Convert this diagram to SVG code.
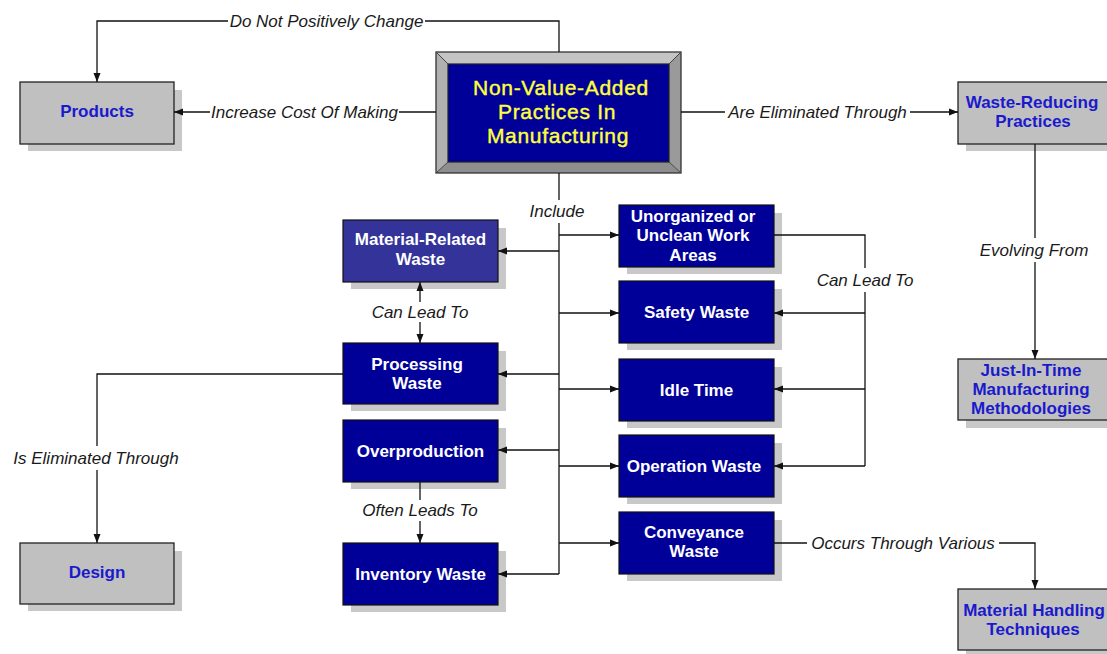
<svg xmlns="http://www.w3.org/2000/svg" width="1107" height="654" viewBox="0 0 1107 654">
<defs>
<style>
.shadow{fill:#c8c8c8;}
.navy{fill:#000099;stroke:#111;stroke-width:1.2;}
.navy2{fill:#333399;stroke:#111;stroke-width:1.2;}
.gray{fill:#c0c0c0;stroke:#222;stroke-width:1.3;}
.wt{font-family:"Liberation Sans",Arial,sans-serif;font-weight:bold;font-size:17px;fill:#ffffff;text-anchor:middle;}
.bt{font-family:"Liberation Sans",Arial,sans-serif;font-weight:bold;font-size:17px;fill:#1a1acc;text-anchor:middle;}
.lbl{font-family:"Liberation Sans",Arial,sans-serif;font-style:italic;font-size:17px;fill:#1a1a1a;text-anchor:middle;}
.main{font-family:"Liberation Sans",Arial,sans-serif;font-size:21px;fill:#ffff3c;text-anchor:middle;letter-spacing:0.7px;stroke:#ffff3c;stroke-width:0.4;}
.ln{fill:none;stroke:#111;stroke-width:1.3;}
.arr{marker-end:url(#ah);}
</style>
<marker id="ah" markerWidth="9" markerHeight="8" refX="9" refY="4" orient="auto" markerUnits="userSpaceOnUse">
<path d="M0,0.5 L9,4 L0,7.5 z" fill="#111"/>
</marker>
</defs>
<rect x="0" y="0" width="1107" height="654" fill="#ffffff"/>

<g id="main">
<polygon points="436,52 681,52 669,64 448,64" fill="#c4c4c4"/>
<polygon points="436,52 448,64 448,162 436,173" fill="#b0b0b0"/>
<polygon points="681,52 681,173 669,162 669,64" fill="#9a9a9a"/>
<polygon points="436,173 448,162 669,162 681,173" fill="#8e8e8e"/>
<rect x="436" y="52" width="245" height="121" fill="none" stroke="#333" stroke-width="1.3"/>
<rect x="448" y="64" width="221" height="98" fill="#000099" stroke="#222" stroke-width="1.2"/>
<path d="M436,52 L448,64 M681,52 L669,64 M436,173 L448,162 M681,173 L669,162" stroke="#444" stroke-width="1" fill="none"/>
<text class="main" x="561" y="95">Non-Value-Added</text>
<text class="main" x="557" y="119">Practices In</text>
<text class="main" x="558" y="143">Manufacturing</text>
</g>

<g id="products">
<rect class="shadow" x="28" y="90" width="154" height="61"/>
<rect class="gray" x="20" y="82" width="154" height="62"/>
<text class="bt" x="97" y="117">Products</text>
</g>

<g id="waste-reducing">
<rect class="shadow" x="966" y="90" width="155" height="61"/>
<rect class="gray" x="958" y="82" width="155" height="62"/>
<text class="bt" x="1032" y="108">Waste-Reducing</text>
<text class="bt" x="1033" y="127">Practices</text>
</g>

<g id="jit">
<rect class="shadow" x="966" y="367" width="155" height="61"/>
<rect class="gray" x="958" y="359" width="155" height="61"/>
<text class="bt" x="1031" y="376">Just-In-Time</text>
<text class="bt" x="1031" y="395">Manufacturing</text>
<text class="bt" x="1031" y="414">Methodologies</text>
</g>

<g id="material-handling">
<rect class="shadow" x="966" y="597" width="155" height="61"/>
<rect class="gray" x="958" y="589" width="155" height="61"/>
<text class="bt" x="1034" y="616">Material Handling</text>
<text class="bt" x="1033" y="635">Techniques</text>
</g>

<g id="design">
<rect class="shadow" x="28" y="551" width="154" height="60"/>
<rect class="gray" x="20" y="543" width="154" height="61"/>
<text class="bt" x="97" y="578">Design</text>
</g>

<g id="material-related">
<rect class="shadow" x="351" y="228" width="155" height="61"/>
<rect class="navy2" x="343" y="220" width="155" height="62"/>
<text class="wt" x="420.5" y="245">Material-Related</text>
<text class="wt" x="420.5" y="265">Waste</text>
</g>

<g id="processing">
<rect class="shadow" x="351" y="351" width="155" height="60"/>
<rect class="navy" x="343" y="343" width="155" height="61"/>
<text class="wt" x="417" y="370">Processing</text>
<text class="wt" x="417" y="389">Waste</text>
</g>

<g id="overproduction">
<rect class="shadow" x="351" y="428" width="155" height="61"/>
<rect class="navy" x="343" y="420" width="155" height="62"/>
<text class="wt" x="420.5" y="457">Overproduction</text>
</g>

<g id="inventory">
<rect class="shadow" x="351" y="551" width="155" height="61"/>
<rect class="navy" x="343" y="543" width="155" height="62"/>
<text class="wt" x="420.5" y="580">Inventory Waste</text>
</g>

<g id="unorganized">
<rect class="shadow" x="627" y="213" width="155" height="61"/>
<rect class="navy" x="619" y="205" width="155" height="62"/>
<text class="wt" x="693" y="222">Unorganized or</text>
<text class="wt" x="693" y="241">Unclean Work</text>
<text class="wt" x="693" y="261">Areas</text>
</g>

<g id="safety">
<rect class="shadow" x="627" y="289" width="155" height="61"/>
<rect class="navy" x="619" y="281" width="155" height="62"/>
<text class="wt" x="696.5" y="318">Safety Waste</text>
</g>

<g id="idle">
<rect class="shadow" x="627" y="367" width="155" height="61"/>
<rect class="navy" x="619" y="359" width="155" height="62"/>
<text class="wt" x="696.5" y="396">Idle Time</text>
</g>

<g id="operation">
<rect class="shadow" x="627" y="443" width="155" height="61"/>
<rect class="navy" x="619" y="435" width="155" height="62"/>
<text class="wt" x="694" y="472">Operation Waste</text>
</g>

<g id="conveyance">
<rect class="shadow" x="627" y="520" width="155" height="61"/>
<rect class="navy" x="619" y="512" width="155" height="62"/>
<text class="wt" x="694" y="538">Conveyance</text>
<text class="wt" x="694" y="557">Waste</text>
</g>

<g id="connectors">
<path class="ln" d="M559,52 V21 H425"/>
<path class="ln arr" d="M228,21 H97 V82"/>
<text class="lbl" x="326.5" y="27">Do Not Positively Change</text>
<path class="ln" d="M436,112 H399"/>
<path class="ln arr" d="M210,112 H174"/>
<text class="lbl" x="304.5" y="118">Increase Cost Of Making</text>
<path class="ln" d="M681,112 H725"/>
<path class="ln arr" d="M910,112 H958"/>
<text class="lbl" x="817.5" y="118">Are Eliminated Through</text>
<path class="ln" d="M559,173 V200"/>
<path class="ln" d="M559,223 V574"/>
<text class="lbl" x="557" y="217">Include</text>
<path class="ln arr" d="M559,235 H619"/>
<path class="ln arr" d="M559,251 H498"/>
<path class="ln arr" d="M559,313 H619"/>
<path class="ln arr" d="M559,374 H498"/>
<path class="ln arr" d="M559,389 H619"/>
<path class="ln arr" d="M559,450 H498"/>
<path class="ln arr" d="M559,466 H619"/>
<path class="ln arr" d="M559,543 H619"/>
<path class="ln arr" d="M559,574 H498"/>
<path class="ln arr" d="M420,302 V282"/>
<path class="ln arr" d="M420,322 V343"/>
<text class="lbl" x="420" y="318">Can Lead To</text>
<path class="ln" d="M343,374 H97 V446"/>
<path class="ln arr" d="M97,470 V543"/>
<text class="lbl" x="96" y="464">Is Eliminated Through</text>
<path class="ln" d="M420,482 V500"/>
<path class="ln arr" d="M420,521 V543"/>
<text class="lbl" x="420" y="516">Often Leads To</text>
<path class="ln" d="M774,235 H865 V268"/>
<path class="ln" d="M865,292 V466"/>
<path class="ln arr" d="M865,313 H774"/>
<path class="ln arr" d="M865,389 H774"/>
<path class="ln arr" d="M865,466 H774"/>
<text class="lbl" x="865" y="286">Can Lead To</text>
<path class="ln" d="M1035,144 V238"/>
<path class="ln arr" d="M1035,262 V359"/>
<text class="lbl" x="1034" y="256">Evolving From</text>
<path class="ln" d="M774,543 H807"/>
<path class="ln arr" d="M999,543 H1035 V589"/>
<text class="lbl" x="903" y="549">Occurs Through Various</text>
</g>
</svg>
